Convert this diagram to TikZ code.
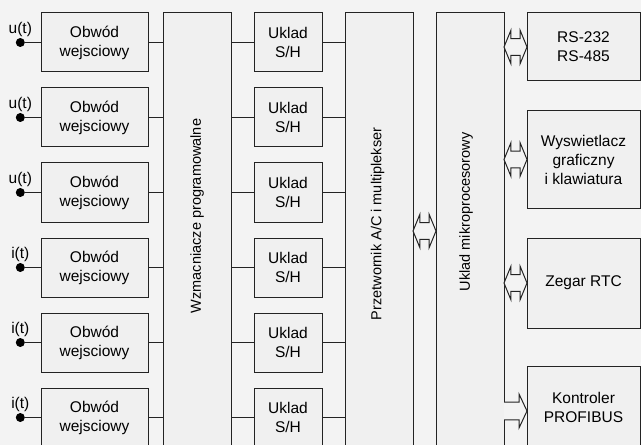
\documentclass[tikz,border=0pt]{standalone}
\usepackage{fontspec}
\setmainfont{Liberation Sans}
\usepackage{tikz}
\usetikzlibrary{positioning, calc}
\definecolor{skanTlo}{RGB}{243,243,243}
\definecolor{skanBlok}{RGB}{240,240,240}
\definecolor{skanLinia}{RGB}{35,35,35}

\begin{document}
\begin{tikzpicture}[x=1bp, y=1bp, node distance=16bp and 15bp,
blok/.style={rectangle, draw=skanLinia, fill=skanBlok, line width=1bp,
inner sep=0pt, outer sep=0pt, align=center,
font=\fontsize{15.5bp}{19bp}\selectfont},
obwod/.style={blok, minimum width=107bp, minimum height=59bp},
uklad/.style={blok, minimum width=68bp, minimum height=59bp},
pion/.style={blok, minimum width=68bp, minimum height=470bp},
zewn/.style={blok, minimum width=113bp},
opis/.style={rotate=90, font=\fontsize{14.5bp}{17bp}\selectfont},
wejscie/.style={circle, fill=black, inner sep=0pt, minimum size=9bp,
label distance=2bp},
every label/.append style={font=\fontsize{15.5bp}{19bp}\selectfont, inner sep=1bp},
linia/.style={draw=skanLinia, line width=1bp},
szyna/.style={draw=skanLinia, fill=skanTlo, line width=1bp,
to path={let \p1=(\tikztostart), \p2=(\tikztotarget) in
-- (\x1+7,\y1+17) -- (\x1+7,\y1+8.5) -- (\x2-7,\y1+8.5) -- (\x2-7,\y1+17)
-- (\x2,\y1) -- (\x2-7,\y1-17) -- (\x2-7,\y1-8.5) -- (\x1+7,\y1-8.5)
-- (\x1+7,\y1-17) -- cycle}},
strzalka/.style={draw=skanLinia, fill=skanTlo, line width=1bp,
to path={let \p1=(\tikztostart), \p2=(\tikztotarget) in
(\x1,\y1+9) -- (\x2-8,\y1+9) -- (\x2-8,\y1+17) -- (\x2,\y1)
-- (\x2-8,\y1-17) -- (\x2-8,\y1-9) -- (\x1,\y1-9)}}]
\useasboundingbox (0,0) rectangle (641,-445);
\fill[skanTlo] (0,0) rectangle (641,-445);
% obwody wejsciowe
\node[obwod] (ob1) at (94.5,-42.5) {Obwód\\wejsciowy};
\node[obwod, below=of ob1] (ob2) {Obwód\\wejsciowy};
\node[obwod, below=of ob2] (ob3) {Obwód\\wejsciowy};
\node[obwod, below=of ob3] (ob4) {Obwód\\wejsciowy};
\node[obwod, below=of ob4] (ob5) {Obwód\\wejsciowy};
\node[obwod, below=of ob5] (ob6) {Obwód\\wejsciowy};
\node[wejscie, left=16bp of ob1, label=above:u(t)] (we1) {};
\node[wejscie, left=16bp of ob2, label=above:u(t)] (we2) {};
\node[wejscie, left=16bp of ob3, label=above:u(t)] (we3) {};
\node[wejscie, left=16bp of ob4, label=above:i(t)] (we4) {};
\node[wejscie, left=16bp of ob5, label=above:i(t)] (we5) {};
\node[wejscie, left=16bp of ob6, label=above:i(t)] (we6) {};
% wzmacniacze
\node[pion, right=15bp of ob1.north east, anchor=north west] (wzm) {};
\node[opis] (opWzm) at ([yshift=-203bp]wzm.north) {Wzmacniacze programowalne};
% uklady S/H
\node[uklad, right=23bp of wzm.north east, anchor=north west] (sh1) {Uklad\\S/H};
\node[uklad, below=of sh1] (sh2) {Uklad\\S/H};
\node[uklad, below=of sh2] (sh3) {Uklad\\S/H};
\node[uklad, below=of sh3] (sh4) {Uklad\\S/H};
\node[uklad, below=of sh4] (sh5) {Uklad\\S/H};
\node[uklad, below=of sh5] (sh6) {Uklad\\S/H};
% przetwornik i mikroprocesor
\node[pion, right=23bp of sh1.north east, anchor=north west] (prz) {};
\node[opis] (opPrz) at ([xshift=-1.5bp, yshift=-211bp]prz.north) {Przetwornik A/C i multiplekser};
\node[pion, right=23bp of prz.north east, anchor=north west] (mik) {};
\node[opis] (opMik) at ([xshift=-4bp, yshift=-199bp]mik.north) {Uklad mikroprocesorowy};
% peryferia
\node[zewn, minimum height=68bp, right=23bp of mik.north east, anchor=north west] (rs) {RS-232\\RS-485};
\node[zewn, minimum height=97bp, below=30bp of rs] (wys) {Wyswietlacz\\graficzny\\i klawiatura};
\node[zewn, minimum height=90bp, below=30bp of wys] (zeg) {Zegar RTC};
\node[zewn, minimum height=82bp, below=38bp of zeg] (kon) {Kontroler\\PROFIBUS};
% polaczenia
\draw[linia] (we1) -- (ob1);
\draw[linia] (we2) -- (ob2);
\draw[linia] (we3) -- (ob3);
\draw[linia] (we4) -- (ob4);
\draw[linia] (we5) -- (ob5);
\draw[linia] (we6) -- (ob6);
\draw[linia] (ob1) -- (ob1 -| wzm.west);
\draw[linia] (ob2) -- (ob2 -| wzm.west);
\draw[linia] (ob3) -- (ob3 -| wzm.west);
\draw[linia] (ob4) -- (ob4 -| wzm.west);
\draw[linia] (ob5) -- (ob5 -| wzm.west);
\draw[linia] (ob6) -- (ob6 -| wzm.west);
\draw[linia] (sh1 -| wzm.east) -- (sh1) -- (sh1 -| prz.west);
\draw[linia] (sh2 -| wzm.east) -- (sh2) -- (sh2 -| prz.west);
\draw[linia] (sh3 -| wzm.east) -- (sh3) -- (sh3 -| prz.west);
\draw[linia] (sh4 -| wzm.east) -- (sh4) -- (sh4 -| prz.west);
\draw[linia] (sh5 -| wzm.east) -- (sh5) -- (sh5 -| prz.west);
\draw[linia] (sh6 -| wzm.east) -- (sh6) -- (sh6 -| prz.west);
% magistrale
\draw[szyna] ([yshift=-218bp]prz.north east) to ([yshift=-218bp]mik.north west);
\draw[szyna] (mik.east |- rs.west)  to (rs.west);
\draw[szyna] (mik.east |- wys.west) to (wys.west);
\draw[szyna] (mik.east |- zeg.west) to (zeg.west);
\draw[strzalka] ([yshift=-4bp]mik.east |- kon.west) to ([yshift=-4bp]kon.west);
\end{tikzpicture}
\end{document}
